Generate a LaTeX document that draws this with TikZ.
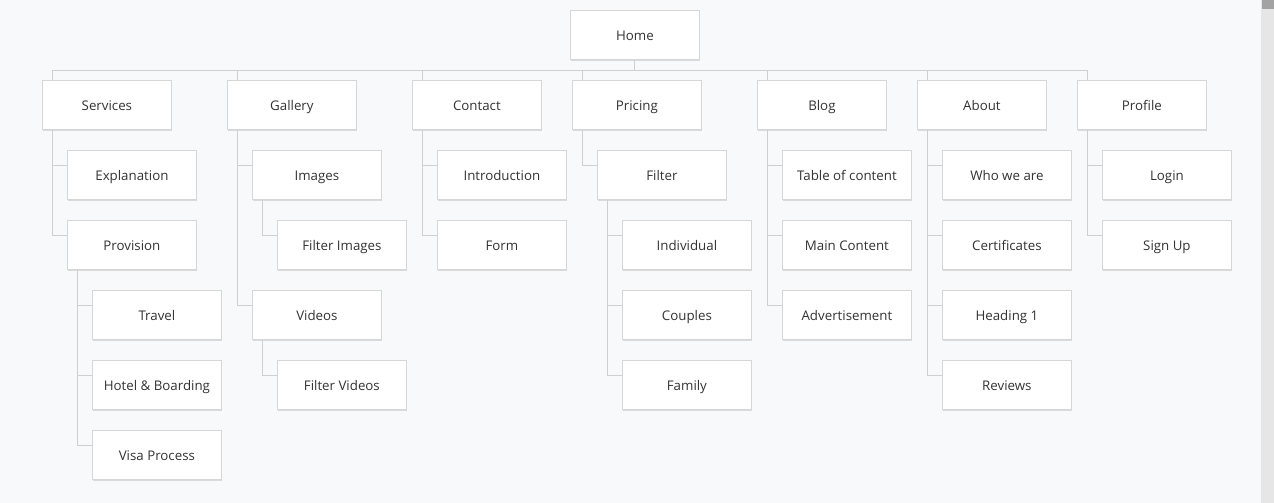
\documentclass[tikz,border=0pt]{standalone}
\usepackage{fontspec}
\setmainfont{Open Sans}
\usetikzlibrary{shadows}
\definecolor{bg}{HTML}{F8F9FB}
\definecolor{boxline}{HTML}{D6D6D6}
\definecolor{conncol}{HTML}{CFCFCF}
\definecolor{txt}{HTML}{333333}
\definecolor{track}{HTML}{E6E6E6}
\definecolor{thumb}{HTML}{A3A3A3}
\tikzset{
  box/.style={draw=boxline, line width=0.8pt, fill=white, anchor=north west,
    minimum width=129pt, minimum height=49pt, inner sep=0pt,
    text height=14pt, text depth=2pt,
    text=txt, font=\fontsize{13.3}{15}\selectfont,
    drop shadow={shadow xshift=1pt, shadow yshift=-1.2pt, opacity=0.12, fill=black}},
  conn/.style={draw=conncol, line width=0.9pt},
}
\newcommand{\lnk}[2]{\draw[conn] ([xshift=10.5pt]#1.south west) |- ([yshift=-15.5pt]#2.north west);}
\newcommand{\up}[1]{\draw[conn] ([xshift=10.5pt]#1.north west) -- ([xshift=10.5pt,yshift=10pt]#1.north west);}
\begin{document}
\begin{tikzpicture}[x=1pt,y=-1pt]
\fill[bg] (0,0) rectangle (1274,503);
\useasboundingbox (0,0) rectangle (1274,503);
% scrollbar
\fill[track] (1261,0) rectangle (1274,503);
\fill[thumb] (1262,0) rectangle (1274,9);

\node[box] (home) at (570,10) {Home};
% level 1
\node[box] (services) at (42,80) {Services};
\node[box] (gallery) at (227,80) {Gallery};
\node[box] (contact) at (412,80) {Contact};
\node[box] (pricing) at (572,80) {Pricing};
\node[box] (blog) at (757,80) {Blog};
\node[box] (about) at (917,80) {About};
\node[box] (profile) at (1077,80) {Profile};
% services
\node[box] (explanation) at (67,150) {Explanation};
\node[box] (provision) at (67,220) {Provision};
\node[box] (travel) at (92,290) {Travel};
\node[box] (hotel) at (92,360) {Hotel \& Boarding};
\node[box] (visa) at (92,430) {Visa Process};
% gallery
\node[box] (images) at (252,150) {Images};
\node[box] (filterimages) at (277,220) {Filter Images};
\node[box] (videos) at (252,290) {Videos};
\node[box] (filtervideos) at (277,360) {Filter Videos};
% contact
\node[box] (intro) at (437,150) {Introduction};
\node[box] (form) at (437,220) {Form};
% pricing
\node[box] (filter) at (597,150) {Filter};
\node[box] (individual) at (622,220) {Individual};
\node[box] (couples) at (622,290) {Couples};
\node[box] (family) at (622,360) {Family};
% blog
\node[box] (toc) at (782,150) {Table of content};
\node[box] (main) at (782,220) {Main Content};
\node[box] (advert) at (782,290) {Advertisement};
% about
\node[box] (who) at (942,150) {Who we are};
\node[box] (cert) at (942,220) {Certificates};
\node[box] (heading) at (942,290) {Heading 1};
\node[box] (reviews) at (942,360) {Reviews};
% profile
\node[box] (login) at (1102,150) {Login};
\node[box] (signup) at (1102,220) {Sign Up};

% connectors
\draw[conn] (home.south) -- ([yshift=-10pt]home.south);
\draw[conn] ([xshift=10.5pt,yshift=10pt]services.north west) -- ([xshift=10.5pt,yshift=10pt]profile.north west);
\up{services}\up{gallery}\up{contact}\up{pricing}\up{blog}\up{about}\up{profile}
\lnk{services}{explanation}\lnk{services}{provision}
\lnk{provision}{travel}\lnk{provision}{hotel}\lnk{provision}{visa}
\lnk{gallery}{images}\lnk{gallery}{videos}
\lnk{images}{filterimages}\lnk{videos}{filtervideos}
\lnk{contact}{intro}\lnk{contact}{form}
\lnk{pricing}{filter}
\lnk{filter}{individual}\lnk{filter}{couples}\lnk{filter}{family}
\lnk{blog}{toc}\lnk{blog}{main}\lnk{blog}{advert}
\lnk{about}{who}\lnk{about}{cert}\lnk{about}{heading}\lnk{about}{reviews}
\lnk{profile}{login}\lnk{profile}{signup}
\end{tikzpicture}
\end{document}
